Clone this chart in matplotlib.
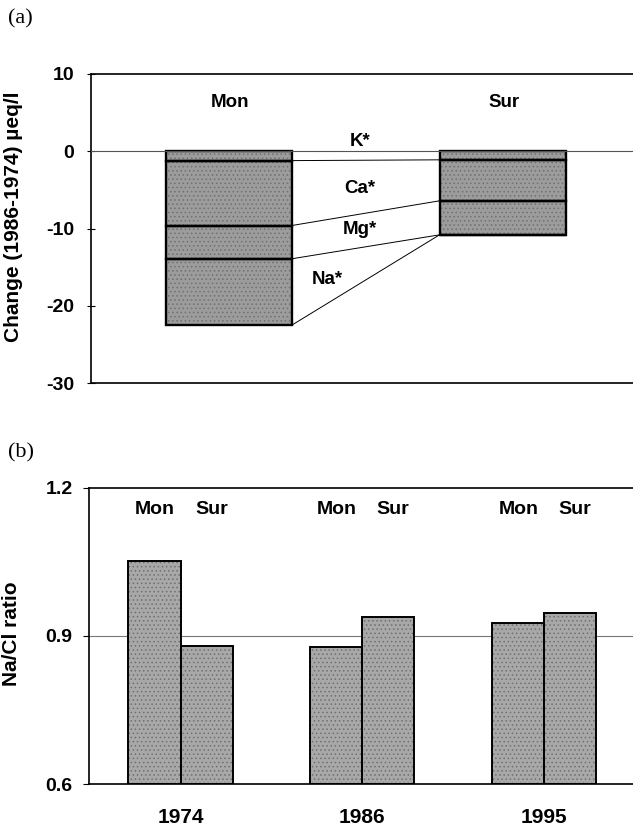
import matplotlib
matplotlib.use("Agg")
import matplotlib.pyplot as plt
import numpy as np

# panel (a): change 1986-1974, ueq/l, stacked segments (K*, Ca*, Mg*, Na*)
sites = ["Mon", "Sur"]
ions = ["K*", "Ca*", "Mg*", "Na*"]
mon_change = [-1.2, -8.4, -4.3, -8.6]
sur_change = [-1.1, -5.3, -4.4, 0.0]
ion_label_y = [1.3, -4.8, -10.1, -16.6]

# panel (b): Na/Cl ratio
years = ["1974", "1986", "1995"]
mon_ratio = [1.052, 0.878, 0.927]
sur_ratio = [0.880, 0.938, 0.947]

plt.rcParams['font.family'] = ['Liberation Sans', 'DejaVu Sans']
plt.rcParams['font.weight'] = 'bold'
plt.rcParams['font.size'] = 13.5
plt.rcParams['axes.unicode_minus'] = False
plt.rcParams['hatch.linewidth'] = 0.6

W, H = 633, 826
fig = plt.figure(figsize=(W / 100, H / 100), dpi=100)

def px_axes(left, top, bottom):
    return fig.add_axes([left / W, 1 - bottom / H, 1 - left / W, (bottom - top) / H])

def stipple_bar(ax, xs, heights, width, bottom, face, lw_edge):
    # grey fill with a dotted texture, then a black outline
    ax.bar(xs, heights, width, bottom=bottom, color=face, edgecolor='#707070',
           linewidth=0, hatch='....', zorder=2)
    ax.bar(xs, heights, width, bottom=bottom, fill=False, edgecolor='black',
           linewidth=lw_edge, zorder=3)

# ---------------- panel (a)
ax1 = px_axes(90.7, 74, 383.3)
bar_w = 0.46
x = np.arange(len(sites))
bottoms = [0.0, 0.0]
tops_mon, tops_sur = [0.0], [0.0]
for i, ion in enumerate(ions):
    vals = [mon_change[i], sur_change[i]]
    stipple_bar(ax1, x, vals, bar_w, bottoms, '#9c9c9c', 1.7)
    bottoms = [bottoms[0] + vals[0], bottoms[1] + vals[1]]
    tops_mon.append(bottoms[0])
    tops_sur.append(bottoms[1])

# connecting lines from Mon to Sur segment boundaries
for ym, ys in zip(tops_mon[1:], tops_sur[1:]):
    ax1.plot([x[0] + bar_w / 2, x[1] - bar_w / 2], [ym, ys],
             color='black', lw=0.7, zorder=4)

ax1.axhline(0, color='#555555', lw=0.8, zorder=4)

for ion, yl in zip(ions, ion_label_y):
    xl = 0.36 if ion == "Na*" else 0.48
    ax1.text(xl, yl, ion, ha='center', va='center', fontweight='bold')
for xi, s in zip(x, sites):
    ax1.text(xi + 0.005, 6.25, s, ha='center', va='center', fontweight='bold')

ax1.set_xlim(-0.503, 1.476)
ax1.set_ylim(-30, 10)
ax1.set_yticks([10, 0, -10, -20, -30])
ax1.set_xticks([])
ax1.tick_params(axis='y', direction='inout', length=6, width=0.8, pad=9,
                labelsize=14)
ax1.spines['right'].set_visible(False)
for sp in ['left', 'top', 'bottom']:
    ax1.spines[sp].set_linewidth(1.2)
ax1.set_ylabel("Change (1986-1974) µeq/l", fontweight='bold', fontsize=15)
ax1.yaxis.set_label_coords(-0.124, 0.539)

fig.text(8 / W, 1 - 19 / H, "(a)", family=['Liberation Serif'], fontsize=16,
         fontweight='normal', va='center', ha='left')

# ---------------- panel (b)
ax2 = px_axes(89.3, 487.7, 784.3)
xb = np.arange(len(years))
bw = 0.287
ax2.axhline(0.9, color='#777777', lw=0.8, zorder=1)
stipple_bar(ax2, xb - bw / 2, np.array(mon_ratio) - 0.6, bw, 0.6, '#a8a8a8', 1.4)
stipple_bar(ax2, xb + bw / 2, np.array(sur_ratio) - 0.6, bw, 0.6, '#a8a8a8', 1.4)
for xi in xb:
    ax2.text(xi - 0.14, 1.155, "Mon", ha='center', va='center', fontweight='bold',
             fontsize=14)
    ax2.text(xi + 0.17, 1.155, "Sur", ha='center', va='center', fontweight='bold',
             fontsize=14)

ax2.set_xlim(-0.502, 2.49)
ax2.set_ylim(0.6, 1.2)
ax2.set_yticks([0.6, 0.9, 1.2])
ax2.set_yticklabels(["0.6", "0.9", "1.2"])
ax2.set_xticks(xb)
ax2.set_xticklabels(years)
ax2.tick_params(axis='x', length=0, pad=17, labelsize=15)
ax2.tick_params(axis='y', direction='out', length=4, width=0.8, pad=8,
                labelsize=14)
ax2.spines['right'].set_visible(False)
for sp in ['left', 'top', 'bottom']:
    ax2.spines[sp].set_linewidth(1.2)
ax2.set_ylabel("Na/Cl ratio", fontweight='bold', fontsize=15)
ax2.yaxis.set_label_coords(-0.126, 0.507)

fig.text(8 / W, 1 - 453 / H, "(b)", family=['Liberation Serif'], fontsize=16,
         fontweight='normal', va='center', ha='left')

fig.savefig("out.png", dpi=100)
